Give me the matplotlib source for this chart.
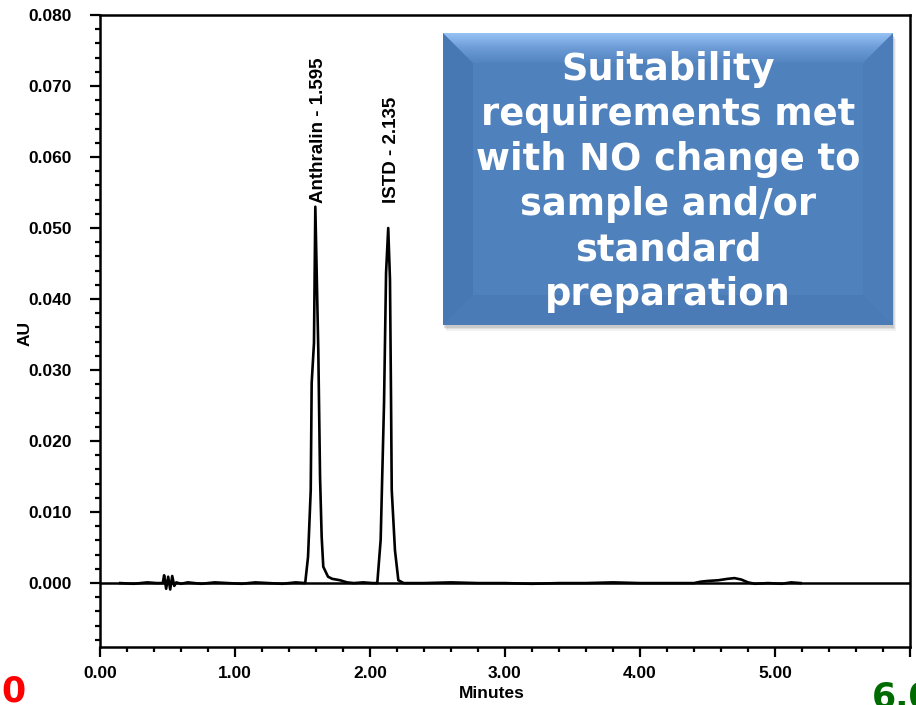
import numpy as np
import matplotlib
matplotlib.use("Agg")
import matplotlib.pyplot as plt
from matplotlib.patches import Polygon, Rectangle
from matplotlib.colors import LinearSegmentedColormap
from matplotlib.font_manager import FontProperties
from matplotlib.ticker import MultipleLocator, FixedLocator, FixedFormatter

# Chromatogram trace (minutes, AU)
trace_time = [0.15, 0.25, 0.35, 0.42, 0.465, 0.475, 0.490, 0.505, 0.520, 0.535,
              0.550, 0.565, 0.60, 0.65, 0.75, 0.85, 0.95, 1.05, 1.15,
              1.25, 1.35, 1.45, 1.52, 1.541, 1.561, 1.568, 1.585, 1.595, 1.617,
              1.630, 1.642, 1.654, 1.689, 1.72, 1.778, 1.83, 1.88, 1.95, 2.02,
              2.054, 2.079, 2.104, 2.119, 2.135, 2.148, 2.156, 2.161, 2.185, 2.210,
              2.25, 2.40, 2.60, 2.80, 3.00, 3.20, 3.40, 3.60, 3.80, 4.00,
              4.20, 4.40, 4.45, 4.50, 4.58, 4.65, 4.70, 4.75, 4.80, 4.85,
              4.95, 5.05, 5.12, 5.19]
trace_au = [0.0, -0.0001, 0.0001, 0.0, 0.0, 0.0011, -0.0008, 0.0009, -0.0009, 0.0010,
            -0.0004, 0.0001, -0.0001, 0.0001, -0.0001, 0.0001, 0.0, -0.0001, 0.0001,
            0.0, -0.0001, 0.0001, 0.0, 0.0037, 0.0131, 0.0282, 0.0338, 0.0530, 0.0328,
            0.0149, 0.0065, 0.0023, 0.0009, 0.0006, 0.0004, 0.0001, 0.0, 0.0001, 0.0,
            0.0, 0.0061, 0.0254, 0.0437, 0.0500, 0.0427, 0.0254, 0.0131, 0.0046, 0.0004,
            0.0, 0.0, 0.0001, 0.0, 0.0, -0.0001, 0.0, 0.0, 0.0001, 0.0,
            0.0, 0.0, 0.0002, 0.0003, 0.0004, 0.0006, 0.0007, 0.0005, 0.0001, -0.0001,
            0.0, -0.0001, 0.0001, 0.0]

# Peak annotations
peak_names = ["Anthralin", "ISTD"]
peak_rt = [1.595, 2.135]
label_au = 0.0535

x_major = [0, 1, 2, 3, 4, 5, 6]
x_labels = ["0.00", "1.00", "2.00", "3.00", "4.00", "5.00", ""]
y_major = [0.0, 0.01, 0.02, 0.03, 0.04, 0.05, 0.06, 0.07, 0.08]
y_labels = ["0.000", "0.010", "0.020", "0.030", "0.040", "0.050", "0.060", "0.070", "0.080"]

box_lines = ["Suitability", "requirements met", "with NO change to",
             "sample and/or", "standard", "preparation"]

W, H = 916, 705
fig = plt.figure(figsize=(W / 100, H / 100), dpi=100)
fig.patch.set_facecolor("white")

ax = fig.add_axes([100 / W, (H - 647) / H, 810 / W, 632 / H])
ax.set_xlim(0, 6)
ax.set_ylim(-0.009, 0.080)

ax.axhline(0.0, color="black", lw=1.8, zorder=2)
ax.plot(trace_time, trace_au, color="black", lw=1.9, zorder=3, solid_joinstyle="round")

for name, rt in zip(peak_names, peak_rt):
    ax.annotate(f"{name} - {rt:.3f}", xy=(rt, label_au), xytext=(2, 0),
                textcoords="offset points", rotation=90, ha="center", va="bottom",
                fontsize=13.5, fontweight="bold", family="Liberation Sans", color="black")

tick_font = FontProperties(family="Liberation Sans", weight="bold", size=12.5)
ax.xaxis.set_major_locator(FixedLocator(x_major))
ax.xaxis.set_major_formatter(FixedFormatter(x_labels))
ax.xaxis.set_minor_locator(MultipleLocator(0.2))
ax.yaxis.set_major_locator(FixedLocator(y_major))
ax.yaxis.set_major_formatter(FixedFormatter(y_labels))
ax.yaxis.set_minor_locator(MultipleLocator(0.002))
ax.tick_params(which="major", direction="out", length=7.5, width=1.6, color="black")
ax.tick_params(which="minor", direction="out", length=3.5, width=1.6, color="black")
ax.tick_params(axis="x", which="major", pad=6)
ax.tick_params(axis="y", which="major", pad=13)
for lab in ax.get_xticklabels() + ax.get_yticklabels():
    lab.set_fontproperties(tick_font)
for sp in ax.spines.values():
    sp.set_linewidth(1.8)

ax.set_xlabel("Minutes", fontsize=12.5, fontweight="bold", family="Liberation Sans")
ax.set_ylabel("AU", fontsize=12.5, fontweight="bold", family="Liberation Sans")
ax.xaxis.set_label_coords((492 - 100) / 810, -(686 - 647) / 632)
ax.yaxis.set_label_coords(-(100 - 33) / 810, (647 - 334) / 632)

# Overlay in pixel coordinates for the callout and corner markers
ov = fig.add_axes([0, 0, 1, 1], zorder=5)
ov.set_xlim(0, W)
ov.set_ylim(H, 0)
ov.axis("off")

x0, x1, y0, y1, bev = 443, 893, 33, 325, 30
for off, a in [(6, 0.10), (4, 0.16), (2.5, 0.22)]:
    ov.add_patch(Rectangle((x0 + off * 0.5, y0 + off), x1 - x0, y1 - y0,
                           facecolor="#7f7f7f", edgecolor="none", alpha=a))
ov.add_patch(Rectangle((x0, y0), x1 - x0, y1 - y0, facecolor="#4F81BD", edgecolor="none"))
ov.add_patch(Polygon([(x0, y0), (x0 + bev, y0 + bev), (x0 + bev, y1 - bev), (x0, y1)],
                     closed=True, facecolor="#4878B3", edgecolor="none"))
ov.add_patch(Polygon([(x1, y0), (x1 - bev, y0 + bev), (x1 - bev, y1 - bev), (x1, y1)],
                     closed=True, facecolor="#4C7DB9", edgecolor="none"))
ov.add_patch(Polygon([(x0, y1), (x0 + bev, y1 - bev), (x1 - bev, y1 - bev), (x1, y1)],
                     closed=True, facecolor="#4B7BB6", edgecolor="none"))
top_poly = Polygon([(x0, y0), (x1, y0), (x1 - bev, y0 + bev), (x0 + bev, y0 + bev)],
                   closed=True, facecolor="none", edgecolor="none")
ov.add_patch(top_poly)
grad_cmap = LinearSegmentedColormap.from_list("bevel", ["#96C2F4", "#6C9BD6", "#5385C1"])
grad = np.linspace(0, 1, 64).reshape(-1, 1)
im = ov.imshow(grad, extent=(x0, x1, y0 + bev, y0), cmap=grad_cmap, aspect="auto",
               origin="upper", zorder=1.5)
im.set_clip_path(top_poly)
ov.set_xlim(0, W)
ov.set_ylim(H, 0)

ov.text((x0 + x1) / 2, 182, "\n".join(box_lines), ha="center", va="center",
        color="white", fontsize=26.5, fontweight="bold", family="DejaVu Sans",
        linespacing=1.28, zorder=4)

ov.text(1, 702, "0", color="#FF0000", fontsize=25, fontweight="bold",
        family="DejaVu Sans", ha="left", va="baseline")
ov.text(872, 708, "6.0", color="#006B00", fontsize=25, fontweight="bold",
        family="DejaVu Sans", ha="left", va="baseline", clip_on=False)

fig.savefig("out.png", dpi=100)
